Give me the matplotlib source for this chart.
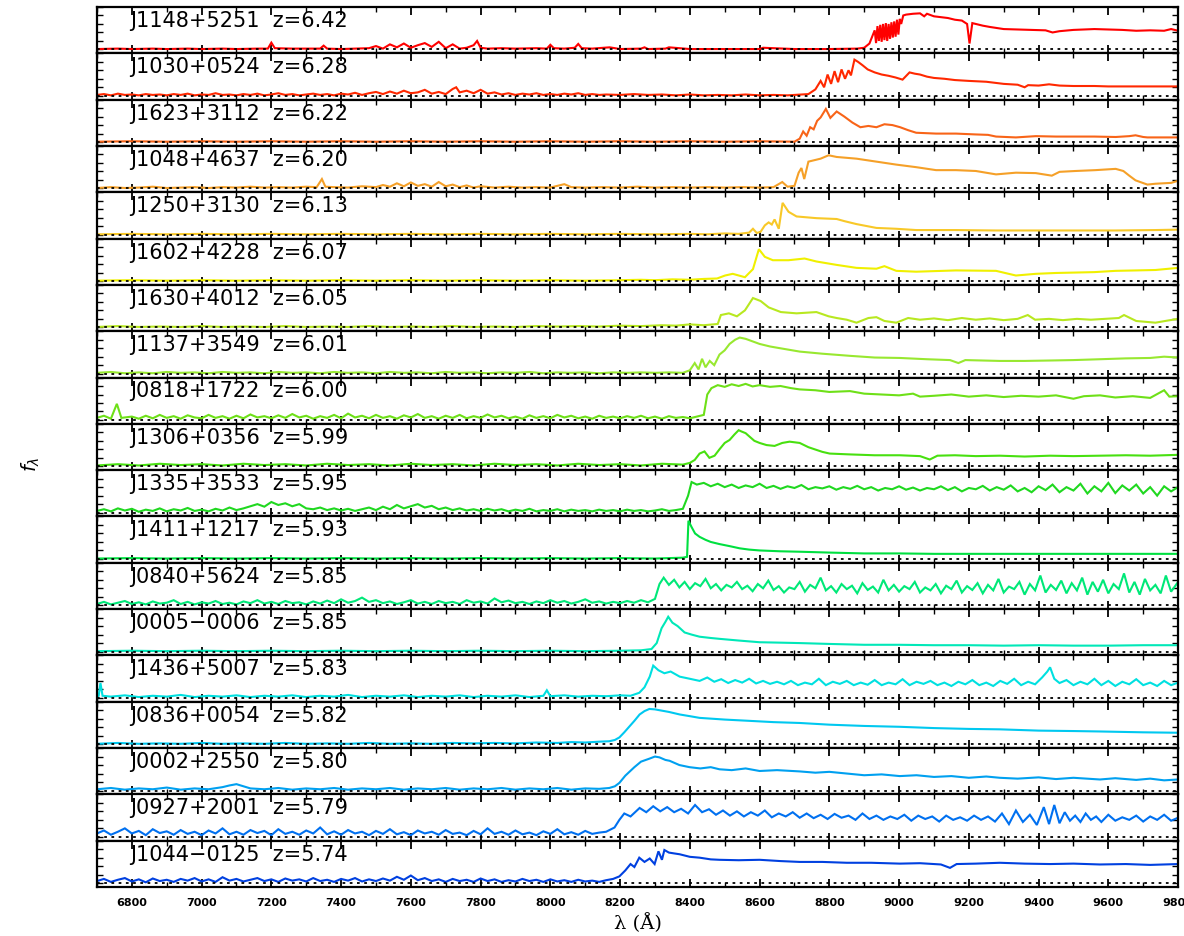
import matplotlib
matplotlib.use('Agg')
import matplotlib.pyplot as plt
from matplotlib.ticker import MultipleLocator

names = ["J1148+5251", "J1030+0524", "J1623+3112", "J1048+4637", "J1250+3130",
         "J1602+4228", "J1630+4012", "J1137+3549", "J0818+1722", "J1306+0356",
         "J1335+3533", "J1411+1217", "J0840+5624", "J0005\u22120006", "J1436+5007",
         "J0836+0054", "J0002+2550", "J0927+2001", "J1044\u22120125"]
redshifts = ["6.42", "6.28", "6.22", "6.20", "6.13", "6.07", "6.05", "6.01", "6.00", "5.99",
             "5.95", "5.93", "5.85", "5.85", "5.83", "5.82", "5.80", "5.79", "5.74"]
colors = ["#ff0000", "#ff2800", "#f86418", "#f5a028", "#f8c828", "#f0f000", "#b8e820",
          "#98e830", "#6ee018", "#48e010", "#20d820", "#00e040", "#00e878", "#00e8b8",
          "#00e0e0", "#00c8f0", "#00a0f0", "#0070f0", "#0040e0"]
x_ticks = [6800, 7000, 7200, 7400, 7600, 7800, 8000, 8200, 8400, 8600, 8800, 9000, 9200, 9400, 9600, 9800]

# (wavelength [A], flux [% of panel height])
J1148 = [(6700,1),(6760,2),(6800,1),(6860,2),(6900,1),(6960,2),(7000,1),(7060,2),(7100,1),(7160,2),(7190,2),(7200,16),(7210,3),(7260,2),(7300,2),(7340,2),(7350,9),(7360,2),(7400,1),(7440,2),(7480,3),(7500,8),(7520,2),(7540,12),(7560,5),(7580,14),(7600,4),(7620,10),(7640,15),(7660,6),(7680,18),(7700,3),(7720,12),(7740,2),(7760,4),(7780,10),(7790,20),(7800,4),(7820,2),(7860,3),(7900,2),(7960,3),(7990,2),(8000,11),(8010,3),(8040,2),(8070,4),(8080,13),(8090,3),(8120,2),(8170,5),(8200,1),(8260,2),(8270,5),(8280,1),(8330,2),(8340,5),(8400,1),(8500,1),(8600,1),(8610,4),(8700,1),(8800,1),(8880,2),(8900,4),(8915,14),(8930,45),(8934,15),(8938,55),(8942,20),(8946,58),(8950,18),(8954,60),(8958,22),(8962,62),(8966,20),(8970,60),(8974,25),(8978,64),(8982,28),(8986,66),(8990,30),(8994,70),(8998,35),(9002,72),(9006,60),(9012,80),(9020,82),(9040,84),(9060,85),(9072,78),(9080,84),(9100,78),(9120,76),(9140,74),(9160,70),(9180,68),(9195,60),(9202,14),(9210,62),(9240,56),(9260,53),(9300,48),(9340,47),(9380,46),(9420,45),(9440,40),(9460,43),(9500,46),(9560,48),(9600,47),(9640,46),(9680,44),(9720,45),(9760,44),(9780,48),(9800,44)]
J1030 = [(6700,2),(6720,4),(6740,1),(6760,5),(6780,2),(6800,3),(6820,1),(6840,4),(6860,2),(6880,3),(6900,1),(6920,4),(6940,2),(6960,5),(6980,1),(7000,3),(7020,2),(7040,6),(7060,2),(7080,3),(7100,1),(7120,4),(7140,2),(7160,5),(7180,1),(7200,3),(7220,6),(7240,2),(7260,4),(7280,1),(7300,3),(7320,5),(7340,2),(7360,4),(7380,1),(7400,5),(7420,3),(7440,7),(7460,2),(7480,6),(7500,9),(7520,4),(7540,10),(7560,5),(7580,12),(7600,6),(7620,8),(7640,14),(7660,5),(7680,9),(7700,4),(7720,16),(7730,20),(7740,8),(7760,12),(7780,6),(7800,14),(7820,5),(7840,8),(7860,3),(7880,6),(7900,2),(7920,5),(7940,3),(7960,6),(7980,2),(8000,4),(8020,2),(8040,5),(8060,3),(8080,6),(8100,2),(8120,4),(8140,2),(8160,3),(8200,2),(8240,4),(8280,2),(8320,3),(8360,1),(8400,3),(8440,1),(8480,2),(8520,1),(8560,3),(8600,1),(8640,2),(8680,1),(8720,3),(8740,4),(8760,15),(8775,35),(8785,20),(8795,50),(8805,28),(8815,58),(8825,32),(8835,62),(8845,40),(8855,60),(8862,48),(8872,85),(8882,80),(8895,72),(8910,62),(8930,55),(8950,50),(8970,47),(8990,43),(9010,38),(9030,55),(9045,52),(9060,50),(9080,45),(9100,42),(9130,40),(9160,37),(9200,35),(9250,33),(9300,28),(9340,26),(9360,20),(9370,25),(9400,24),(9430,27),(9460,24),(9500,23),(9560,23),(9600,22),(9700,22),(9800,22)]
J1623 = [(6700,1),(6800,2),(6900,1),(7000,2),(7100,1),(7200,2),(7300,1),(7400,2),(7500,1),(7600,2),(7700,1),(7800,2),(7900,1),(8000,2),(8100,1),(8200,2),(8300,1),(8400,2),(8500,1),(8600,2),(8700,1),(8715,8),(8725,25),(8735,15),(8745,35),(8755,30),(8765,50),(8775,58),(8790,78),(8803,57),(8821,72),(8843,60),(8866,46),(8889,35),(8912,38),(8935,35),(8958,42),(8981,40),(9003,35),(9026,28),(9049,22),(9106,20),(9163,20),(9220,18),(9255,17),(9278,13),(9335,11),(9392,14),(9450,13),(9506,13),(9560,13),(9621,12),(9660,14),(9678,16),(9700,12),(9712,11),(9800,11)]
J1048 = [(6700,1),(6740,3),(6780,1),(6820,2),(6860,4),(6900,1),(6940,2),(6980,3),(7020,1),(7060,3),(7100,2),(7140,4),(7180,2),(7220,3),(7260,2),(7300,4),(7330,3),(7345,22),(7355,4),(7380,3),(7420,2),(7460,5),(7500,3),(7520,8),(7540,4),(7560,12),(7580,5),(7600,14),(7620,6),(7640,10),(7660,4),(7680,15),(7700,5),(7720,9),(7740,3),(7760,7),(7780,2),(7800,5),(7840,2),(7880,4),(7920,2),(7960,3),(8000,2),(8040,10),(8060,3),(8100,2),(8150,3),(8200,2),(8250,4),(8300,2),(8350,3),(8400,2),(8450,3),(8500,2),(8550,3),(8600,2),(8640,3),(8665,15),(8680,4),(8700,6),(8712,37),(8720,48),(8728,22),(8740,63),(8775,70),(8798,78),(8821,74),(8878,70),(8935,63),(8992,56),(9049,50),(9106,43),(9163,43),(9220,41),(9278,33),(9335,37),(9392,36),(9438,30),(9460,39),(9506,41),(9563,43),(9621,46),(9643,41),(9660,30),(9678,19),(9712,9),(9735,11),(9780,13),(9800,18)]
J1250 = [(6700,1),(6800,2),(6900,1),(7000,2),(7100,1),(7200,2),(7300,1),(7400,2),(7500,1),(7600,2),(7700,1),(7800,2),(7900,1),(8000,2),(8100,1),(8200,2),(8300,1),(8400,2),(8450,1),(8500,3),(8540,2),(8570,5),(8581,14),(8592,4),(8603,7),(8615,22),(8626,29),(8635,24),(8643,36),(8655,14),(8666,75),(8683,54),(8706,43),(8763,39),(8821,37),(8843,32),(8878,25),(8935,16),(8992,14),(9049,11),(9163,11),(9278,10),(9392,10),(9506,10),(9621,10),(9735,11),(9800,12)]
J1602 = [(6700,1),(6800,2),(6900,1),(7000,2),(7100,1),(7200,2),(7300,1),(7400,2),(7500,1),(7600,2),(7700,1),(7800,2),(7900,1),(8000,2),(8100,1),(8200,2),(8260,3),(8300,2),(8350,4),(8400,3),(8440,5),(8478,6),(8501,13),(8523,17),(8558,9),(8581,28),(8598,75),(8615,57),(8638,49),(8683,49),(8729,53),(8763,46),(8821,38),(8878,31),(8935,29),(8958,35),(8992,24),(9049,22),(9163,25),(9278,24),(9335,13),(9392,17),(9450,19),(9506,20),(9560,21),(9621,24),(9680,25),(9735,26),(9800,31)]
J1630 = [(6700,1),(6760,3),(6820,1),(6880,2),(6940,1),(7000,3),(7060,1),(7120,2),(7180,1),(7240,3),(7300,1),(7360,2),(7420,1),(7480,3),(7540,1),(7600,2),(7660,1),(7720,3),(7780,1),(7840,2),(7900,1),(7960,3),(8020,2),(8080,3),(8140,2),(8200,4),(8260,3),(8320,5),(8360,4),(8400,7),(8440,5),(8480,8),(8489,29),(8512,33),(8535,26),(8558,40),(8581,69),(8603,62),(8626,47),(8661,36),(8706,33),(8763,36),(8798,26),(8821,22),(8850,18),(8878,11),(8912,22),(8935,24),(8958,15),(8992,11),(9026,22),(9060,18),(9100,21),(9140,17),(9180,22),(9220,18),(9260,21),(9300,17),(9340,20),(9369,29),(9390,18),(9430,20),(9470,17),(9510,20),(9550,18),(9590,20),(9630,22),(9645,29),(9680,15),(9735,11),(9770,16),(9800,20)]
J1137 = [(6700,2),(6740,4),(6780,1),(6820,3),(6860,1),(6900,4),(6940,2),(6980,3),(7020,1),(7060,4),(7100,2),(7140,3),(7180,1),(7220,4),(7260,2),(7300,3),(7340,1),(7380,4),(7420,2),(7460,3),(7500,1),(7540,4),(7580,2),(7620,3),(7660,1),(7700,4),(7740,2),(7780,3),(7820,1),(7860,3),(7900,2),(7940,4),(7980,1),(8020,3),(8060,2),(8100,3),(8140,1),(8180,3),(8220,2),(8260,3),(8300,2),(8340,3),(8380,2),(8400,8),(8414,25),(8425,10),(8435,35),(8445,15),(8457,30),(8470,20),(8485,45),(8500,55),(8514,70),(8530,80),(8543,85),(8560,82),(8580,76),(8600,70),(8630,64),(8658,60),(8715,52),(8780,47),(8859,42),(8930,38),(9002,37),(9080,34),(9146,32),(9170,25),(9190,32),(9289,30),(9360,30),(9433,31),(9500,32),(9576,34),(9650,36),(9720,37),(9760,40),(9800,38)]
J0818 = [(6700,5),(6720,10),(6740,3),(6757,38),(6770,5),(6800,8),(6820,3),(6840,10),(6860,4),(6880,12),(6900,5),(6920,9),(6940,3),(6960,11),(6980,6),(7000,4),(7020,12),(7040,5),(7060,9),(7080,3),(7100,10),(7120,4),(7140,13),(7160,6),(7180,9),(7200,4),(7220,11),(7240,5),(7260,14),(7280,6),(7300,10),(7320,3),(7340,9),(7360,5),(7380,12),(7400,4),(7420,15),(7440,6),(7460,10),(7480,4),(7500,12),(7520,5),(7540,9),(7560,3),(7580,11),(7600,6),(7620,14),(7640,5),(7660,9),(7680,3),(7700,10),(7720,5),(7740,12),(7760,4),(7780,9),(7800,5),(7820,13),(7840,6),(7860,10),(7880,4),(7900,8),(7920,3),(7940,11),(7960,5),(7980,9),(8000,4),(8020,12),(8040,6),(8060,10),(8080,4),(8100,8),(8120,3),(8140,10),(8160,5),(8180,8),(8200,4),(8220,9),(8240,5),(8260,10),(8280,4),(8300,8),(8320,3),(8340,9),(8360,5),(8380,7),(8400,4),(8420,8),(8440,12),(8450,60),(8462,75),(8480,82),(8500,78),(8520,84),(8540,80),(8560,85),(8580,79),(8600,82),(8630,78),(8660,80),(8690,75),(8715,72),(8760,70),(8800,66),(8859,68),(8900,62),(8950,60),(9000,58),(9040,62),(9060,55),(9100,57),(9150,60),(9200,55),(9250,58),(9300,54),(9350,57),(9400,55),(9450,58),(9500,50),(9530,56),(9576,58),(9620,53),(9670,56),(9720,52),(9760,70),(9775,55),(9800,56)]
J1306 = [(6700,2),(6760,5),(6820,2),(6880,6),(6940,3),(7000,5),(7060,2),(7120,6),(7180,3),(7240,5),(7300,2),(7360,6),(7420,3),(7480,5),(7540,2),(7600,6),(7660,3),(7720,5),(7780,2),(7840,6),(7900,3),(7960,5),(8020,2),(8080,6),(8140,3),(8200,5),(8260,2),(8320,6),(8380,4),(8400,8),(8414,15),(8428,30),(8442,35),(8456,20),(8471,25),(8485,40),(8500,55),(8514,62),(8528,75),(8540,85),(8548,82),(8560,78),(8571,70),(8585,60),(8600,55),(8620,50),(8643,48),(8665,55),(8686,58),(8715,55),(8740,45),(8758,40),(8780,34),(8801,30),(8859,28),(8930,26),(9002,26),(9060,24),(9088,16),(9110,25),(9160,26),(9220,24),(9289,25),(9360,23),(9433,25),(9500,24),(9576,25),(9650,26),(9720,25),(9800,27)]
J1335 = [(6700,4),(6720,8),(6740,3),(6760,10),(6780,5),(6800,9),(6820,2),(6840,7),(6860,4),(6880,10),(6900,3),(6920,8),(6940,5),(6960,11),(6980,4),(7000,7),(7020,3),(7040,9),(7060,5),(7080,12),(7100,6),(7120,10),(7140,15),(7160,20),(7180,14),(7200,25),(7220,18),(7240,22),(7260,15),(7280,20),(7300,10),(7320,8),(7340,12),(7360,6),(7380,10),(7400,5),(7420,9),(7440,4),(7460,8),(7480,12),(7500,6),(7520,14),(7540,8),(7560,18),(7580,10),(7600,15),(7620,20),(7640,12),(7660,16),(7680,8),(7700,12),(7720,6),(7740,10),(7760,5),(7780,8),(7800,4),(7820,9),(7840,5),(7860,8),(7880,3),(7900,7),(7920,4),(7940,9),(7960,3),(7980,6),(8000,4),(8020,8),(8040,3),(8060,7),(8080,4),(8100,6),(8120,3),(8140,7),(8160,4),(8180,6),(8200,3),(8220,7),(8240,4),(8260,6),(8280,3),(8300,5),(8320,8),(8340,4),(8360,6),(8380,9),(8395,40),(8405,72),(8420,66),(8440,70),(8460,62),(8480,68),(8500,60),(8520,66),(8540,58),(8560,64),(8580,60),(8600,68),(8620,58),(8640,63),(8660,56),(8680,62),(8700,58),(8720,65),(8740,55),(8760,60),(8780,57),(8800,62),(8820,54),(8840,60),(8860,56),(8880,63),(8900,55),(8920,60),(8940,52),(8960,58),(8980,55),(9000,62),(9020,54),(9040,59),(9060,52),(9080,58),(9100,55),(9120,62),(9140,53),(9160,60),(9180,50),(9200,58),(9220,55),(9240,63),(9260,52),(9280,60),(9300,54),(9320,64),(9340,50),(9360,58),(9380,48),(9400,62),(9420,53),(9440,66),(9460,48),(9480,60),(9500,52),(9520,68),(9540,45),(9560,62),(9580,50),(9600,70),(9620,46),(9640,64),(9660,52),(9680,66),(9700,45),(9720,60),(9740,40),(9760,62),(9780,50),(9800,60)]
J1411 = [(6700,1),(6800,2),(6900,1),(7000,2),(7100,1),(7200,2),(7300,1),(7400,2),(7500,1),(7600,2),(7700,1),(7800,2),(7900,1),(8000,2),(8100,1),(8200,2),(8300,1),(8380,3),(8392,5),(8396,90),(8405,75),(8415,60),(8428,52),(8445,45),(8460,40),(8485,35),(8515,30),(8543,25),(8570,22),(8600,20),(8660,18),(8715,17),(8800,15),(8900,13),(9000,13),(9100,12),(9300,12),(9500,12),(9800,12)]
J0840 = [(6700,3),(6720,8),(6740,2),(6760,6),(6780,10),(6800,3),(6820,7),(6840,2),(6860,9),(6880,4),(6900,6),(6920,12),(6940,3),(6960,8),(6980,2),(7000,7),(7020,4),(7040,10),(7060,3),(7080,6),(7100,2),(7120,9),(7140,5),(7160,12),(7180,4),(7200,8),(7220,3),(7240,10),(7260,5),(7280,7),(7300,2),(7320,9),(7340,4),(7360,11),(7380,5),(7400,14),(7420,6),(7440,10),(7460,18),(7480,8),(7500,12),(7520,5),(7540,9),(7560,3),(7580,7),(7600,12),(7620,4),(7640,8),(7660,3),(7680,10),(7700,5),(7720,8),(7740,3),(7760,12),(7780,6),(7800,9),(7820,4),(7840,16),(7860,7),(7880,11),(7900,5),(7920,8),(7940,3),(7960,9),(7980,5),(8000,12),(8020,6),(8040,10),(8060,4),(8080,8),(8100,14),(8120,6),(8140,9),(8160,4),(8180,8),(8200,5),(8220,10),(8240,6),(8260,12),(8280,7),(8300,15),(8313,50),(8325,65),(8340,48),(8355,60),(8370,42),(8385,55),(8400,38),(8415,52),(8430,45),(8445,62),(8460,40),(8475,50),(8490,35),(8505,48),(8520,42),(8535,55),(8550,38),(8565,46),(8580,33),(8595,50),(8610,40),(8625,58),(8640,36),(8655,45),(8670,30),(8685,42),(8700,38),(8715,55),(8730,32),(8745,48),(8760,40),(8775,65),(8790,35),(8805,45),(8820,30),(8835,50),(8850,38),(8865,46),(8880,28),(8895,52),(8910,36),(8925,44),(8940,30),(8955,60),(8970,35),(8985,48),(9000,32),(9015,45),(9030,38),(9045,55),(9060,30),(9075,42),(9090,35),(9105,50),(9120,28),(9135,46),(9150,38),(9165,58),(9180,30),(9195,45),(9210,36),(9225,52),(9240,28),(9255,48),(9270,35),(9285,62),(9300,30),(9315,44),(9330,38),(9345,55),(9360,25),(9375,50),(9390,35),(9405,70),(9420,30),(9435,48),(9450,36),(9465,58),(9480,28),(9495,52),(9510,35),(9525,65),(9540,25),(9555,55),(9570,32),(9585,60),(9600,28),(9615,50),(9630,38),(9645,75),(9660,30),(9675,55),(9690,25),(9705,62),(9720,35),(9735,48),(9750,28),(9765,70),(9780,32),(9800,55)]
J0005 = [(6700,1),(6800,2),(6900,1),(7000,2),(7100,1),(7200,2),(7300,1),(7400,2),(7500,1),(7600,2),(7700,1),(7800,2),(7900,1),(8000,2),(8100,1),(8200,2),(8260,3),(8290,6),(8305,20),(8319,55),(8330,70),(8338,82),(8350,68),(8365,60),(8385,45),(8405,40),(8428,35),(8460,32),(8485,30),(8540,26),(8600,22),(8660,21),(8715,20),(8800,18),(8900,16),(9000,16),(9100,15),(9200,15),(9300,14),(9400,15),(9500,14),(9600,14),(9700,15),(9800,15)]
J1436 = [(6700,2),(6705,5),(6710,35),(6716,5),(6740,3),(6780,6),(6820,2),(6860,5),(6900,3),(6940,7),(6980,2),(7020,5),(7060,3),(7100,6),(7140,2),(7180,5),(7220,3),(7260,6),(7300,2),(7340,5),(7380,3),(7420,7),(7460,2),(7500,5),(7540,3),(7580,6),(7620,2),(7660,5),(7700,3),(7740,6),(7780,2),(7820,5),(7860,3),(7900,6),(7940,2),(7980,5),(7990,18),(8000,4),(8040,6),(8080,3),(8120,5),(8160,4),(8200,6),(8230,5),(8255,12),(8270,25),(8285,50),(8295,76),(8310,65),(8327,58),(8345,62),(8371,50),(8400,45),(8428,40),(8450,48),(8470,38),(8490,44),(8510,35),(8530,42),(8550,36),(8570,45),(8590,34),(8610,40),(8630,33),(8650,38),(8670,32),(8690,40),(8710,30),(8730,36),(8750,32),(8770,45),(8790,30),(8810,38),(8830,33),(8850,40),(8870,30),(8890,36),(8910,31),(8930,42),(8950,30),(8970,36),(8990,32),(9010,44),(9030,30),(9050,38),(9070,33),(9090,40),(9110,30),(9130,36),(9150,28),(9170,38),(9190,32),(9210,42),(9230,30),(9250,36),(9270,28),(9290,40),(9310,33),(9330,45),(9350,30),(9370,38),(9390,32),(9410,48),(9425,62),(9433,72),(9445,45),(9460,35),(9480,42),(9500,30),(9520,38),(9540,32),(9560,45),(9580,30),(9600,40),(9620,28),(9640,38),(9660,32),(9680,44),(9700,30),(9720,36),(9740,28),(9760,40),(9780,30),(9800,36)]
J0836 = [(6700,1),(6760,3),(6820,1),(6880,2),(6940,1),(7000,3),(7060,1),(7120,2),(7180,1),(7240,3),(7300,1),(7360,2),(7420,1),(7480,3),(7540,1),(7600,2),(7660,1),(7720,3),(7780,2),(7840,3),(7900,2),(7960,4),(8020,3),(8060,5),(8100,4),(8140,6),(8169,7),(8185,10),(8198,16),(8212,28),(8227,42),(8241,55),(8256,70),(8270,78),(8284,83),(8300,82),(8313,80),(8340,76),(8371,70),(8400,66),(8428,62),(8500,58),(8571,55),(8640,52),(8715,50),(8800,46),(8900,43),(9002,41),(9100,38),(9200,36),(9289,35),(9400,32),(9500,31),(9576,30),(9700,28),(9800,27)]
J0002 = [(6700,3),(6740,6),(6780,2),(6820,5),(6860,3),(6900,7),(6940,2),(6980,5),(7020,3),(7060,8),(7080,12),(7100,15),(7120,10),(7140,5),(7180,3),(7220,6),(7260,2),(7300,5),(7340,3),(7380,6),(7420,2),(7460,5),(7500,3),(7540,6),(7580,2),(7620,5),(7660,3),(7700,6),(7740,2),(7780,5),(7820,3),(7860,6),(7900,2),(7940,5),(7980,3),(8020,6),(8060,2),(8100,5),(8140,4),(8169,6),(8185,10),(8198,18),(8215,35),(8241,55),(8260,68),(8284,75),(8300,80),(8313,78),(8330,72),(8342,70),(8370,60),(8399,55),(8430,52),(8460,55),(8485,50),(8520,48),(8560,52),(8600,46),(8650,48),(8715,45),(8760,42),(8800,44),(8850,40),(8900,36),(8950,38),(9002,34),(9050,36),(9100,32),(9150,34),(9200,30),(9250,33),(9289,30),(9340,28),(9400,31),(9450,27),(9500,30),(9576,26),(9620,29),(9680,25),(9720,28),(9760,24),(9800,26)]
J0927 = [(6700,8),(6720,15),(6740,5),(6760,12),(6780,20),(6800,8),(6820,14),(6840,4),(6860,18),(6880,9),(6900,13),(6920,5),(6940,16),(6960,7),(6980,12),(7000,4),(7020,15),(7040,8),(7060,20),(7080,6),(7100,12),(7120,5),(7140,16),(7160,9),(7180,14),(7200,4),(7220,18),(7240,7),(7260,12),(7280,5),(7300,15),(7320,8),(7340,22),(7360,6),(7380,13),(7400,5),(7420,16),(7440,8),(7460,12),(7480,4),(7500,14),(7520,7),(7540,18),(7560,6),(7580,11),(7600,4),(7620,15),(7640,8),(7660,12),(7680,5),(7700,16),(7720,7),(7740,10),(7760,4),(7780,14),(7800,6),(7820,20),(7840,7),(7860,12),(7880,5),(7900,15),(7920,6),(7940,10),(7960,4),(7980,13),(8000,7),(8020,18),(8040,6),(8060,11),(8080,5),(8100,14),(8120,7),(8140,10),(8160,12),(8184,22),(8198,40),(8212,55),(8230,48),(8256,68),(8275,58),(8295,72),(8315,60),(8335,70),(8355,58),(8375,66),(8395,55),(8415,75),(8435,58),(8455,65),(8475,52),(8495,62),(8515,50),(8535,60),(8555,48),(8575,58),(8595,50),(8615,62),(8635,46),(8655,55),(8675,48),(8695,58),(8715,45),(8735,55),(8755,44),(8775,52),(8795,42),(8815,54),(8835,45),(8855,50),(8875,40),(8895,55),(8915,42),(8935,50),(8955,40),(8975,48),(8995,42),(9015,52),(9035,38),(9055,50),(9075,42),(9095,48),(9115,36),(9135,50),(9155,40),(9175,46),(9195,38),(9215,50),(9235,40),(9255,48),(9275,36),(9295,55),(9315,30),(9335,62),(9355,35),(9375,52),(9395,28),(9415,70),(9430,30),(9445,75),(9460,32),(9475,58),(9490,38),(9505,50),(9520,35),(9535,55),(9550,40),(9565,48),(9580,35),(9600,52),(9620,38),(9640,46),(9660,40),(9680,50),(9700,36),(9720,48),(9740,40),(9760,52),(9780,38),(9800,45)]
J1044 = [(6700,5),(6720,10),(6740,3),(6760,8),(6780,12),(6800,4),(6820,9),(6840,2),(6860,11),(6880,5),(6900,8),(6920,3),(6940,10),(6960,6),(6980,12),(7000,4),(7020,9),(7040,3),(7060,14),(7080,6),(7100,10),(7120,4),(7140,8),(7160,12),(7180,5),(7200,9),(7220,3),(7240,11),(7260,6),(7280,9),(7300,4),(7320,12),(7340,5),(7360,8),(7380,3),(7400,10),(7420,6),(7440,12),(7460,4),(7480,9),(7500,5),(7520,11),(7540,6),(7560,15),(7580,8),(7600,18),(7620,7),(7640,12),(7660,5),(7680,9),(7700,3),(7720,10),(7740,5),(7760,8),(7780,3),(7800,11),(7820,5),(7840,9),(7860,3),(7880,7),(7900,4),(7920,10),(7940,5),(7960,8),(7980,3),(8000,9),(8020,4),(8040,7),(8060,3),(8080,8),(8100,4),(8120,6),(8140,3),(8160,7),(8180,10),(8198,16),(8215,30),(8230,45),(8241,38),(8255,60),(8270,50),(8285,58),(8299,45),(8310,75),(8320,55),(8327,78),(8340,72),(8355,70),(8371,68),(8400,62),(8428,60),(8460,56),(8485,55),(8540,54),(8600,55),(8660,52),(8715,50),(8780,50),(8850,48),(8920,48),(9002,46),(9060,47),(9120,44),(9146,36),(9165,45),(9220,46),(9289,48),(9360,46),(9433,45),(9500,46),(9576,44),(9650,45),(9720,43),(9800,45)]

spectra = [J1148, J1030, J1623, J1048, J1250, J1602, J1630, J1137, J0818, J1306,
           J1335, J1411, J0840, J0005, J1436, J0836, J0002, J0927, J1044]

fig, axes = plt.subplots(len(spectra), 1, figsize=(11.84, 9.37), dpi=100, sharex=True)
fig.subplots_adjust(left=0.0819, right=0.995, top=0.9915, bottom=0.0523, hspace=0)

for ax, name, z, col, spec in zip(axes, names, redshifts, colors, spectra):
    w = [p[0] for p in spec]
    f = [p[1] / 100.0 for p in spec]
    ax.plot(w, f, color=col, lw=1.5, solid_joinstyle='miter')
    ax.axhline(0, color='black', ls=(0, (1.5, 2.5)), lw=1.3, zorder=3)
    ax.set_xlim(6700, 9800)
    ax.set_ylim(-0.09, 1.0)
    ax.text(0.0305, 0.72, f"{name}  z={z}", transform=ax.transAxes, fontsize=15,
            va='center', ha='left', color='black')
    ax.set_xticks(x_ticks)
    ax.xaxis.set_minor_locator(MultipleLocator(100))
    ax.tick_params(axis='x', which='major', direction='in', length=6, width=1.3,
                   top=True, bottom=True, labelbottom=False)
    ax.tick_params(axis='x', which='minor', direction='in', length=3.5, width=1.0,
                   top=True, bottom=True)
    ax.yaxis.set_major_locator(MultipleLocator(0.2))
    ax.tick_params(axis='y', which='major', direction='in', length=4, width=1.0,
                   left=True, right=True, labelleft=False)
    for s in ax.spines.values():
        s.set_linewidth(1.6)

axes[-1].tick_params(axis='x', which='major', labelbottom=True, labelsize=8, pad=7)
for lab in axes[-1].get_xticklabels():
    lab.set_fontweight('bold')
axes[-1].set_xlabel("\u03bb (\u00c5)", fontsize=14, family='DejaVu Serif', labelpad=4)
fig.text(0.026, 0.505, r"$f_\lambda$", rotation=90, fontsize=14, va='center', ha='center')

fig.savefig("out.png", dpi=100)
